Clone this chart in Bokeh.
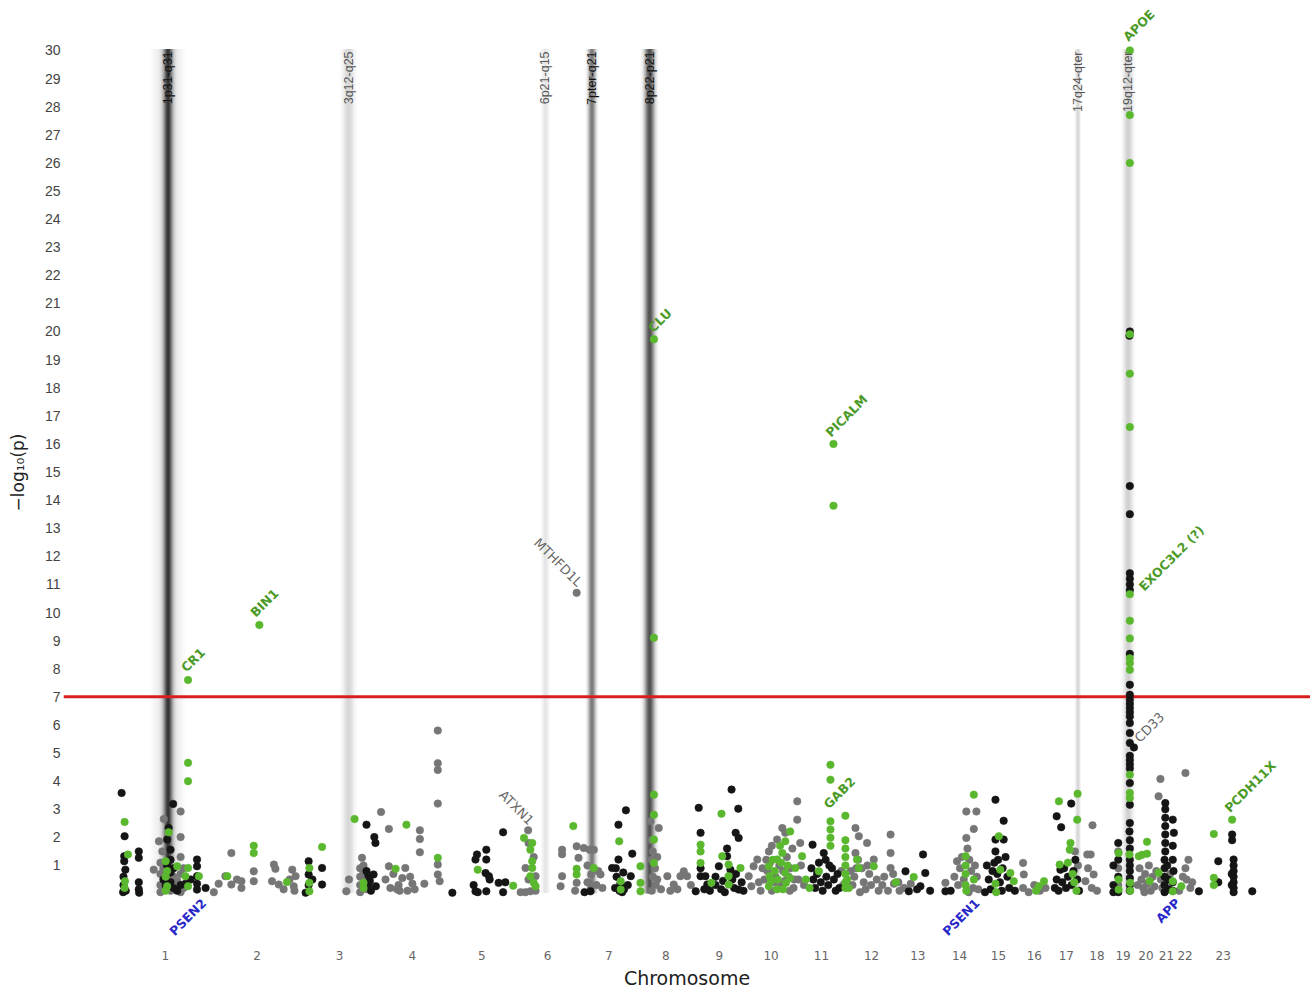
import numpy as np
from bokeh.plotting import figure
from bokeh.models import Range1d, FixedTicker, Span, ColumnDataSource
from bokeh.embed import file_html
from bokeh.resources import INLINE
from bokeh.core.properties import value

# ---------------- data ----------------
chrom_names = [str(i) for i in range(1, 24)]
chrom_len_mb = [249, 243, 198, 191, 181, 171, 159, 146, 141, 136, 135, 133,
                115, 107, 102, 90, 83, 80, 59, 64, 47, 51, 155]

# points per chromosome: [position within chromosome (Mb), -log10(p)]
c1_black = [[7, 3.58], [15, 2.04], [14, 1.33], [14, 1.15], [12, 0.6], [12, 0.3], [11, 0.05], [17, 0.85], [18, 0.1],
            [53, 1.5], [53, 1.27], [53, 0.4], [53, 0.15], [54, 0.03], [133, 2.33], [129, 1.92], [145, 3.19],
            [138, 1.56], [119, 0.5], [125, 0.3], [129, 1.0], [138, 1.2], [138, 0.75], [138, 0.4], [146, 0.9],
            [146, 0.2], [156, 0.1], [165, 0.3], [178, 0.35], [192, 0.5], [209, 1.21], [209, 0.97], [209, 0.62],
            [209, 0.35], [209, 0.14], [232, 0.2]]
c1_gray = [[93, 0.85], [107, 1.86], [120, 2.65], [165, 2.92], [165, 2.01], [116, 1.5], [111, 1.1], [111, 0.7],
           [111, 0.3], [111, 0.05], [119, 0.9], [119, 0.15], [138, 0.1], [146, 0.6], [156, 0.45], [165, 1.3],
           [165, 0.7], [165, 0.05], [173, 0.9], [173, 0.2]]
c1_green = [[15, 2.55], [24, 1.39], [16, 0.44], [15, 0.2], [133, 2.18], [125, 1.15], [125, 0.6], [125, 0.1],
            [129, 0.8], [129, 0.26], [156, 0.97], [178, 0.62], [185, 0.91], [185, 0.26], [185, 7.6], [185, 4.65],
            [185, 4.0], [214, 0.62]]

c2_black = []
c2_gray = [[5, 0.05], [18, 0.35], [36, 0.62], [52, 1.44], [52, 0.32], [67, 0.5], [79, 0.44], [79, 0.2], [112, 0.79],
           [112, 0.44], [166, 1.03], [170, 0.88], [161, 0.44], [179, 0.32], [192, 0.15], [208, 0.5], [215, 0.85],
           [224, 0.62], [219, 0.26], [221, 0.1]]
c2_green = [[41, 0.62], [112, 1.7], [112, 1.44], [127, 9.56], [201, 0.41]]

c3_black = [[8, 0.03], [16, 1.15], [16, 0.68], [16, 0.3], [26, 0.5], [52, 0.91], [52, 0.32], [171, 2.45], [171, 0.8],
            [176, 0.65], [176, 0.3], [180, 0.45], [183, 0.1], [190, 0.68], [192, 2.01], [195, 1.8], [196, 0.26]]
c3_gray = [[117, 0.08], [124, 0.5], [159, 1.27], [154, 0.9], [154, 0.6], [154, 0.3], [154, 0.05], [163, 0.75],
           [163, 1.0], [171, 0.5], [171, 0.15]]
c3_green = [[18, 0.91], [18, 0.38], [18, 0.08], [52, 1.66], [139, 2.65], [163, 0.38], [163, 0.2]]

c4_black = []
c4_gray = [[12, 2.9], [33, 2.3], [33, 0.97], [24, 0.5], [37, 0.2], [45, 0.7], [59, 0.3], [69, 0.55], [77, 0.91],
           [83, 0.1], [96, 0.35], [116, 2.25], [116, 1.94], [116, 1.47], [128, 0.35], [164, 5.8], [164, 4.64],
           [164, 4.4], [164, 3.2], [164, 1.03], [164, 0.68], [169, 0.44], [55, 0.15], [90, 0.6], [102, 0.15],
           [62, 0.1]]
c4_green = [[51, 0.88], [80, 2.45], [164, 1.27]]

c5_black = [[12, 0.03], [74, 1.21], [74, 0.08], [78, 1.39], [103, 1.56], [103, 1.21], [103, 0.08], [101, 0.73],
            [110, 0.62], [112, 0.5], [69, 0.3], [136, 0.38], [148, 2.18], [148, 0.05], [154, 0.4], [80, 0.05]]
c5_gray = []
c5_green = [[80, 0.85], [175, 0.28]]

c6_black = []
c6_gray = [[14, 0.05], [27, 0.91], [27, 0.05], [34, 2.25], [35, 1.8], [35, 0.5], [40, 0.08], [49, 1.3], [54, 0.62],
           [54, 0.1], [121, 0.26], [125, 1.56], [125, 1.4], [125, 0.62], [164, 10.7], [164, 1.68], [164, 0.38],
           [169, 1.27], [160, 0.1]]
c6_green = [[23, 1.98], [40, 1.56], [40, 0.62], [45, 1.8], [45, 1.15], [45, 0.91], [49, 0.38], [54, 0.26],
            [155, 2.4], [164, 0.88], [164, 0.68]]

c7_black = [[14, 0.05], [30, 0.08], [88, 0.91], [105, 2.45], [125, 2.96], [105, 1.21], [142, 1.42], [98, 0.9],
            [100, 0.6], [110, 0.35], [115, 0.05], [96, 0.2], [118, 0.75], [138, 0.62], [130, 0.3], [108, 0.1],
            [120, 0.15]]
c7_gray = [[12, 1.62], [28, 1.56], [39, 1.56], [32, 0.68], [32, 0.26], [22, 1.0], [22, 0.4], [46, 0.3], [51, 0.8],
           [57, 0.68], [62, 0.2]]
c7_green = [[39, 0.91], [107, 1.86], [111, 0.44], [111, 0.14]]

c8_black = []
c8_gray = [[32, 2.57], [54, 2.33], [35, 1.9], [38, 1.5], [35, 1.2], [44, 0.9], [38, 0.6], [46, 0.3], [35, 0.1],
           [50, 1.3], [50, 0.5], [77, 0.62], [94, 0.32], [112, 0.62], [121, 0.79], [130, 0.62], [85, 0.1],
           [60, 0.15], [104, 0.15], [140, 0.3]]
c8_green = [[5, 0.97], [5, 0.38], [5, 0.08], [41, 3.52], [41, 2.8], [41, 1.92], [41, 1.09], [41, 19.72], [41, 9.1]]

c9_black = [[15, 3.05], [20, 2.16], [20, 0.9], [20, 0.62], [7, 0.08], [33, 0.62], [38, 0.32], [69, 0.97], [91, 1.33],
            [91, 1.6], [103, 3.7], [121, 3.02], [114, 2.16], [122, 1.98], [105, 0.5], [122, 0.14], [30, 0.15],
            [45, 0.1], [60, 0.3], [85, 0.05], [110, 0.2], [130, 0.4], [60, 0.6], [80, 0.45], [75, 0.15],
            [100, 0.85], [115, 0.7], [135, 0.1]]
c9_gray = []
c9_green = [[20, 1.74], [20, 1.5], [20, 1.09], [49, 0.38], [76, 2.84], [78, 1.33], [95, 1.03], [95, 0.62],
            [95, 0.32], [127, 0.91]]

c10_black = []
c10_gray = [[8, 0.62], [21, 0.97], [15, 0.26], [31, 1.21], [62, 1.5], [84, 1.92], [98, 2.33], [106, 2.16], [45, 0.9],
            [50, 0.5], [55, 1.2], [70, 1.7], [75, 0.4], [90, 1.0], [95, 0.3], [100, 0.8], [110, 1.3], [115, 0.6],
            [125, 1.6], [128, 0.2], [40, 0.1], [70, 0.1], [118, 0.1], [58, 0.8], [80, 0.6], [88, 0.2], [105, 0.45],
            [120, 0.9], [130, 0.5], [35, 0.4], [65, 1.1]]
c10_green = [[119, 2.21], [106, 1.86], [98, 1.44], [62, 0.97], [64, 0.62], [62, 0.26], [84, 1.21], [86, 0.5],
             [84, 0.15], [106, 0.73], [108, 0.38], [133, 0.91], [72, 1.2], [92, 1.7], [112, 1.0], [78, 0.8],
             [100, 0.15], [68, 0.45], [95, 1.1], [118, 0.55]]

c11_black = [[43, 1.74], [73, 1.44], [78, 1.2], [40, 0.9], [45, 0.5], [50, 0.2], [55, 0.7], [65, 0.4], [70, 0.1],
             [80, 0.6], [85, 0.3], [95, 0.9], [100, 0.5], [105, 0.1], [110, 0.7], [60, 1.1], [88, 1.0], [115, 0.2]]
c11_gray = [[2, 3.28], [2, 2.63], [10, 1.8], [12, 1.0], [20, 0.3], [120, 0.8], [125, 0.3], [5, 0.5]]
c11_green = [[15, 1.33], [60, 0.79], [91, 2.57], [91, 2.28], [91, 1.99], [91, 4.58], [91, 4.05], [99, 16.0],
             [99, 13.8], [131, 2.77], [131, 1.9], [131, 1.6], [131, 1.3], [131, 1.0], [131, 0.7], [131, 0.4],
             [131, 0.2], [25, 0.5], [35, 0.2], [91, 1.7]]

c12_black = []
c12_gray = [[23, 2.33], [32, 2.04], [23, 1.44], [30, 1.2], [54, 1.8], [72, 1.21], [117, 2.1], [117, 1.44],
            [117, 0.91], [124, 0.7], [126, 0.35], [10, 0.8], [15, 0.3], [20, 0.6], [40, 0.9], [45, 0.4], [50, 0.15],
            [60, 0.7], [65, 0.3], [80, 0.5], [85, 0.1], [95, 0.3], [100, 0.6], [110, 0.1], [35, 0.05], [25, 0.9],
            [55, 1.0]]
c12_green = [[27, 1.21], [32, 0.91], [72, 0.97], [1, 0.5], [5, 0.2], [131, 0.4]]

c13_black = [[24, 0.79], [33, 0.08], [71, 1.39], [77, 0.73], [64, 0.26], [90, 0.1], [55, 0.15]]
c13_gray = [[38, 0.35], [20, 0.2], [5, 0.4], [8, 0.1]]
c13_green = [[46, 0.59]]

c14_black = [[16, 0.08], [30, 0.1]]
c14_gray = [[16, 0.38], [47, 1.15], [72, 2.92], [72, 1.98], [99, 2.92], [92, 2.3], [40, 0.6], [50, 0.3], [55, 0.9],
            [60, 1.3], [65, 0.5], [80, 1.2], [85, 0.8], [90, 0.2], [100, 0.6], [104, 0.15], [78, 0.05], [75, 1.6],
            [95, 1.0]]
c14_green = [[92, 3.52], [70, 1.33], [70, 1.0], [70, 0.7], [70, 0.3], [92, 0.5], [72, 0.1]]

c15_black = [[43, 3.34], [65, 2.59], [43, 1.92], [65, 1.92], [43, 1.5], [20, 1.0], [25, 0.5], [30, 0.15], [35, 0.8],
             [50, 1.2], [55, 0.4], [60, 0.1], [70, 1.3], [75, 0.6], [80, 0.2], [48, 0.7], [62, 0.9], [15, 0.05],
             [95, 0.1], [40, 1.1]]
c15_gray = []
c15_green = [[52, 2.04], [56, 0.85], [83, 0.73], [43, 0.35], [45, 0.05], [92, 0.44]]

c16_black = []
c16_gray = [[15, 1.09], [17, 0.68], [15, 0.2], [45, 0.3], [30, 0.05], [60, 0.1], [75, 0.2]]
c16_green = [[57, 0.26], [71, 0.44], [50, 0.1]]

c17_black = [[54, 3.2], [15, 2.75], [27, 2.36], [25, 0.85], [10, 0.2], [15, 0.5], [20, 0.1], [30, 0.4], [35, 0.9],
             [40, 0.2], [45, 0.6], [55, 0.3], [60, 0.8], [65, 1.2], [70, 0.5], [75, 0.1]]
c17_gray = [[64, 1.5], [72, 1.0]]
c17_green = [[21, 3.28], [71, 3.55], [70, 2.63], [52, 1.8], [50, 1.56], [23, 1.03], [45, 1.1], [62, 0.4], [68, 0.1],
             [58, 0.7]]

c18_black = []
c18_gray = [[14, 1.39], [16, 0.9], [28, 2.43], [23, 1.39], [31, 0.68], [9, 0.44], [26, 0.2], [40, 0.1]]
c18_green = []

c19_black = [[17, 1.8], [17, 1.2], [17, 0.6], [17, 0.05], [4, 1.0], [4, 0.3], [4, 0.05], [48, 20.0], [47, 19.85],
             [48, 14.5], [48, 13.5], [48, 11.4], [48, 11.2], [48, 11.0], [48, 10.8], [48, 8.53], [48, 7.43],
             [48, 7.07], [48, 6.9], [48, 6.75], [48, 6.6], [48, 6.45], [48, 6.3], [48, 6.07], [48, 5.71], [48, 5.36],
             [48, 4.9], [48, 4.75], [48, 4.6], [48, 4.45], [48, 3.93], [48, 3.16], [48, 2.51], [47, 2.21], [48, 1.9],
             [48, 1.6], [48, 1.2], [48, 1.0], [48, 0.8], [48, 0.55], [48, 0.3], [48, 0.1], [59, 5.2]]
c19_gray = [[17, 1.5], [17, 0.9], [17, 0.3]]
c19_green = [[18, 1.44], [18, 0.5], [18, 0.14], [48, 30.0], [48, 27.7], [48, 26.0], [48, 19.9], [48, 18.5],
             [48, 16.6], [48, 10.65], [48, 9.71], [48, 9.08], [48, 8.37], [48, 8.2], [48, 7.96], [48, 4.23],
             [48, 3.58], [48, 3.4], [47, 1.39], [49, 0.38], [49, 0.1]]

c20_black = []
c20_gray = [[15, 0.9], [20, 0.5], [25, 0.2], [30, 0.7], [35, 0.35], [40, 1.0], [45, 0.1], [50, 0.6], [55, 0.25],
            [60, 0.8], [28, 0.05], [10, 0.3]]
c20_green = [[13, 1.33], [35, 1.42], [35, 1.84], [22, 1.38], [42, 0.45]]

c21_black = [[20, 3.22], [20, 3.0], [20, 2.7], [20, 2.4], [20, 2.1], [20, 1.8], [20, 1.5], [18, 1.2], [18, 0.9],
             [18, 0.6], [18, 0.3], [18, 0.05], [40, 2.63], [43, 2.16], [40, 1.7], [40, 1.2], [42, 0.8], [40, 0.4],
             [40, 0.1], [25, 1.0], [28, 0.5], [30, 0.15]]
c21_gray = [[7, 4.08], [2, 3.46], [8, 0.5], [12, 0.2], [33, 0.7]]
c21_green = [[40, 0.44], [40, 0.08], [2, 0.74]]

c22_black = []
c22_gray = [[27, 4.29], [27, 0.9], [30, 0.5], [35, 1.2], [40, 0.2], [20, 0.6], [45, 0.4], [10, 0.1]]
c22_green = [[16, 0.26]]

c23_black = [[12, 0.08], [64, 1.15], [64, 0.4], [101, 2.1], [101, 1.9], [105, 1.21], [105, 1.0], [105, 0.8],
             [105, 0.6], [105, 0.4], [105, 0.2], [105, 0.05], [100, 0.7], [100, 0.3], [155, 0.08]]
c23_gray = []
c23_green = [[52, 2.12], [52, 0.56], [52, 0.3], [101, 2.63]]

# linkage regions (chromosome, start Mb, end Mb, label, strength)
band_chr = [1, 3, 6, 7, 8, 17, 19]
band_start = [71, 88, 59, 11, 0, 57, 15]
band_end = [192, 158, 102, 57, 59, 87, 72]
band_label = ["1p31-q31", "3q12-q25", "6p21-q15", "7pter-q21", "8p22-p21", "17q24-qter", "19q12-qter"]
band_strength = [0.8, 0.15, 0.12, 0.5, 0.66, 0.16, 0.18]

# gene annotations attached to points
gene_label = ["CR1", "BIN1", "MTHFD1L", "ATXN1", "CLU", "GAB2", "PICALM", "APOE", "EXOC3L2 (?)", "CD33", "PCDH11X"]
gene_chr = [1, 2, 6, 6, 8, 11, 11, 19, 19, 19, 23]
gene_pos = [185, 127, 164, 34, 41, 131, 99, 48, 48, 59, 101]
gene_logp = [7.6, 9.56, 10.7, 2.25, 19.72, 2.77, 16.0, 30.0, 10.65, 5.2, 2.63]
gene_is_hit = [True, True, False, False, True, True, True, True, True, False, True]

# familial (Mendelian) genes
fam_label = ["PSEN2", "PSEN1", "APP"]
fam_chr = [1, 14, 21]
fam_pos = [227, 73.6, 27]

threshold = 7

# ---------------- derived ----------------
starts = np.concatenate([[0], np.cumsum(chrom_len_mb)[:-1]])
centers = [int(round(s + l / 2)) for s, l in zip(starts, chrom_len_mb)]

black_groups = [c1_black, c2_black, c3_black, c4_black, c5_black, c6_black, c7_black, c8_black, c9_black, c10_black,
                c11_black, c12_black, c13_black, c14_black, c15_black, c16_black, c17_black, c18_black, c19_black,
                c20_black, c21_black, c22_black, c23_black]
gray_groups = [c1_gray, c2_gray, c3_gray, c4_gray, c5_gray, c6_gray, c7_gray, c8_gray, c9_gray, c10_gray,
               c11_gray, c12_gray, c13_gray, c14_gray, c15_gray, c16_gray, c17_gray, c18_gray, c19_gray,
               c20_gray, c21_gray, c22_gray, c23_gray]
green_groups = [c1_green, c2_green, c3_green, c4_green, c5_green, c6_green, c7_green, c8_green, c9_green, c10_green,
                c11_green, c12_green, c13_green, c14_green, c15_green, c16_green, c17_green, c18_green, c19_green,
                c20_green, c21_green, c22_green, c23_green]


def collect(groups):
    xs, ys = [], []
    for i, pts in enumerate(groups):
        for pos, lp in pts:
            xs.append(float(starts[i] + pos))
            ys.append(lp)
    return xs, ys


# ---------------- figure ----------------
p = figure(width=1310, height=991,
           x_range=Range1d(-148.7, 3192.0), y_range=Range1d(-1.635, 31.6),
           output_backend="svg", toolbar_location=None,
           min_border_left=63, min_border_right=0, min_border_top=5, min_border_bottom=51)
p.outline_line_color = None
p.xgrid.visible = False
p.ygrid.visible = False
p.background_fill_color = "white"
p.border_fill_color = "white"

# gradient bands drawn as nested translucent quads (style only)
band_core_div = [14.0, 6.0, 6.0, 6.5, 6.5, 6.0, 6.0]
bl, br, bb, bt, ba = [], [], [], [], []
for i in range(len(band_chr)):
    c = starts[band_chr[i] - 1] + (band_start[i] + band_end[i]) / 2.0
    W = band_end[i] - band_start[i]
    s = band_strength[i]
    sb, sc = W / 4.5, W / band_core_div[i]
    hs = np.linspace(0.8 * W, W / 400.0, 70)
    prof = 0.15 * np.exp(-0.5 * (hs / sb) ** 2) + 0.85 * np.exp(-0.5 * (hs / sc) ** 2)
    A = s * prof / prof[-1]
    prev = 0.0
    for h, a in zip(hs, A):
        a = min(a, 0.95)
        alpha = 1 - (1 - a) / (1 - prev)
        prev = a
        bl.append(c - h)
        br.append(c + h)
        bb.append(0)
        bt.append(30.05)
        ba.append(max(alpha, 0.0))
band_src = ColumnDataSource(dict(left=bl, right=br, bottom=bb, top=bt, alpha=ba))
p.quad(left="left", right="right", bottom="bottom", top="top", source=band_src,
       fill_color="black", fill_alpha="alpha", line_color=None, level="underlay")

p.add_layout(Span(location=threshold, dimension="width", line_color="#d81f1f", line_width=3, level="underlay"))

# points
gx, gy = collect(gray_groups)
kx, ky = collect(black_groups)
ex, ey = collect(green_groups)
p.scatter(gx, gy, size=7.5, fill_color="#767676", line_color="#767676", line_alpha=0.6)
p.scatter(kx, ky, size=7.5, fill_color="#151515", line_color="#151515", line_alpha=0.6)
p.scatter(ex, ey, size=7.5, fill_color="#5ab82e", line_color="#5ab82e", line_alpha=0.6)

# band labels
blx = [float(starts[c - 1] + (s0 + s1) / 2.0) for c, s0, s1 in zip(band_chr, band_start, band_end)]
blc = ["#111111" if s > 0.4 else "#555555" for s in band_strength]
p.text(x=blx, y=[30.0] * len(blx), text=band_label, angle=np.pi / 2, text_align="right",
       text_baseline="middle", text_color=blc, text_font=value("Liberation Sans"),
       text_font_size="12.5px", y_offset=1)

# gene labels
label_angle_deg = [45, 45, -45, -45, 45, 45, 45, 45, 45, 45, 45]
label_dx = [5, 5, -18.6, -11.6, 6, -6, 13, 9, 41.5, 15.5, 18]
label_dy = [-20, -22, -30.5, -22.7, -19, -23, -28, -25, -36, -20, -33]
glx = [float(starts[c - 1] + ps) for c, ps in zip(gene_chr, gene_pos)]
gsrc = ColumnDataSource(dict(
    x=glx, y=gene_logp, text=gene_label,
    angle=[np.deg2rad(a) for a in label_angle_deg],
    dx=label_dx, dy=label_dy,
    color=["#4c9a28" if h else "#666666" for h in gene_is_hit],
    style=["bold" if h else "normal" for h in gene_is_hit],
    size=["12.5px" if h else "13px" for h in gene_is_hit],
))
p.text(x="x", y="y", text="text", angle="angle", x_offset="dx", y_offset="dy", source=gsrc,
       text_color="color", text_font_style="style", text_font_size="size",
       text_font=value("DejaVu Sans"), text_align="center", text_baseline="middle")

fam_dx = [-16, -6, 0]
fam_dy = [23.5, 23.5, 17]
flx = [float(starts[c - 1] + ps) for c, ps in zip(fam_chr, fam_pos)]
p.text(x=flx, y=[0] * 3, text=fam_label, angle=np.pi / 4, x_offset=fam_dx, y_offset=fam_dy,
       text_color="#2828c8", text_font_style="bold", text_font_size="12.5px",
       text_font=value("DejaVu Sans"), text_align="center", text_baseline="middle")

# axes
xa = p.xaxis[0]
xa.ticker = FixedTicker(ticks=centers)
xa.major_label_overrides = {c: n for c, n in zip(centers, chrom_names)}
xa.axis_line_color = None
xa.major_tick_line_color = None
xa.minor_tick_line_color = None
xa.major_tick_out = 0
xa.major_tick_in = 0
xa.minor_tick_out = 0
xa.major_label_standoff = 11
xa.major_label_text_font = "DejaVu Sans"
xa.major_label_text_font_size = "12px"
xa.major_label_text_color = "#666666"
xa.axis_label = "Chromosome"
xa.axis_label_text_font = "DejaVu Sans"
xa.axis_label_text_font_size = "19px"
xa.axis_label_text_font_style = "normal"
xa.axis_label_text_color = "#222222"
xa.axis_label_standoff = 4

ya = p.yaxis[0]
ya.ticker = FixedTicker(ticks=list(range(1, 31)))
ya.axis_line_color = None
ya.major_tick_line_color = None
ya.minor_tick_line_color = None
ya.major_tick_out = 0
ya.major_tick_in = 0
ya.minor_tick_out = 0
ya.major_label_standoff = 3
ya.major_label_text_font = "Liberation Sans"
ya.major_label_text_font_size = "14px"
ya.major_label_text_color = "#444444"
ya.axis_label = "−log₁₀(p)"
ya.axis_label_text_font = "DejaVu Sans"
ya.axis_label_text_font_size = "17px"
ya.axis_label_text_font_style = "normal"
ya.axis_label_text_color = "#222222"
ya.axis_label_standoff = 14

open("out.html", "w").write(file_html(p, INLINE))
